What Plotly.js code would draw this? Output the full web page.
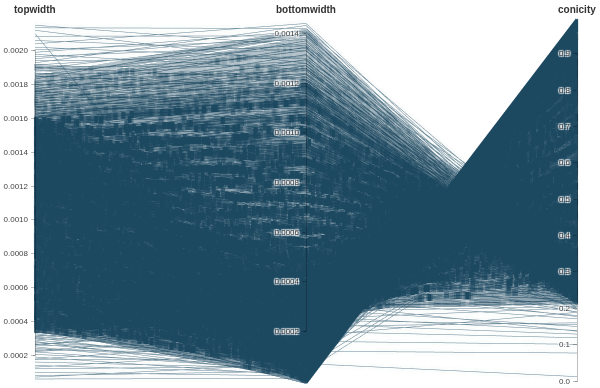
<!DOCTYPE html>
<html><head><meta charset="utf-8">
<script src="https://cdn.plot.ly/plotly-3.0.1.min.js"></script>
<style>
html,body{margin:0;padding:0;background:#fff}
#chart{width:600px;height:388px}
/* thicker strokes for the dark lines of the line layer */
canvas.gl-canvas-focus{filter:url(#thick);}
</style>
</head><body>
<svg style="position:absolute;width:0;height:0" aria-hidden="true">
  <filter id="thick" x="-2%" y="-2%" width="104%" height="104%" color-interpolation-filters="sRGB">
    <feColorMatrix in="SourceGraphic" type="matrix"
      values="0 0 0 0 0.110  0 0 0 0 0.282  0 0 0 0 0.376  -3.077 0 0 0 1.338" result="tone"/>
    <feComposite in="tone" in2="SourceGraphic" operator="in" result="mask"/>
    <feMorphology in="mask" operator="dilate" radius="1 3" result="thickened"/>
    <feMerge><feMergeNode in="SourceGraphic"/><feMergeNode in="thickened"/></feMerge>
  </filter>
</svg>
<div id="chart"></div>
<script>
// axis names
const axisTitles = ['topwidth', 'bottomwidth', 'conicity'];

// one entry per line
const topwidth = [
0.000352,0.000356,0.000361,0.000364,0.000370,0.000374,0.000379,0.000383,0.000388,0.000392,0.000397,0.000400,0.000406,0.000410,0.000415,0.000419,0.000424,0.000428,0.000433,0.000436,
0.000442,0.000446,0.000451,0.000455,0.000460,0.000464,0.000469,0.000472,0.000478,0.000482,0.000487,0.000491,0.000496,0.000500,0.000505,0.000508,0.000514,0.000518,0.000523,0.000527,
0.000532,0.000536,0.000541,0.000544,0.000550,0.000554,0.000559,0.000563,0.000568,0.000572,0.000577,0.000580,0.000586,0.000590,0.000595,0.000599,0.000604,0.000608,0.000613,0.000616,
0.000622,0.000626,0.000631,0.000635,0.000640,0.000644,0.000649,0.000652,0.000658,0.000662,0.000667,0.000671,0.000676,0.000680,0.000685,0.000688,0.000694,0.000698,0.000703,0.000707,
0.000712,0.000716,0.000721,0.000724,0.000730,0.000734,0.000739,0.000743,0.000748,0.000752,0.000757,0.000760,0.000766,0.000770,0.000775,0.000779,0.000784,0.000788,0.000793,0.000796,
0.000802,0.000806,0.000811,0.000815,0.000820,0.000824,0.000829,0.000832,0.000838,0.000842,0.000847,0.000851,0.000856,0.000860,0.000865,0.000868,0.000874,0.000878,0.000883,0.000887,
0.000892,0.000896,0.000901,0.000904,0.000910,0.000914,0.000919,0.000923,0.000928,0.000932,0.000937,0.000940,0.000946,0.000950,0.000955,0.000959,0.000964,0.000968,0.000973,0.000976,
0.000982,0.000986,0.000991,0.000995,0.001000,0.001004,0.001009,0.001012,0.001018,0.001022,0.001027,0.001031,0.001036,0.001040,0.001045,0.001048,0.001054,0.001058,0.001063,0.001067,
0.001072,0.001076,0.001081,0.001084,0.001090,0.001094,0.001099,0.001103,0.001108,0.001112,0.001117,0.001120,0.001126,0.001130,0.001135,0.001139,0.001144,0.001148,0.001153,0.001156,
0.001162,0.001166,0.001171,0.001175,0.001180,0.001184,0.001189,0.001192,0.001198,0.001202,0.001207,0.001211,0.001216,0.001220,0.001225,0.001228,0.001234,0.001238,0.001243,0.001247,
0.001252,0.001256,0.001261,0.001264,0.001270,0.001274,0.001279,0.001283,0.001288,0.001292,0.001297,0.001300,0.001306,0.001310,0.001315,0.001319,0.001324,0.001328,0.001333,0.001336,
0.001342,0.001346,0.001351,0.001355,0.001360,0.001364,0.001369,0.001372,0.001378,0.001382,0.001387,0.001391,0.001396,0.001400,0.001405,0.001408,0.001414,0.001418,0.001423,0.001427,
0.001432,0.001436,0.001441,0.001444,0.001450,0.001454,0.001459,0.001463,0.001468,0.001472,0.001477,0.001480,0.001486,0.001490,0.001495,0.001499,0.001504,0.001508,0.001513,0.001516,
0.001522,0.001526,0.001531,0.001535,0.001540,0.001544,0.001549,0.001552,0.001558,0.001562,0.001567,0.001571,0.001576,0.001580,0.001585,0.001588,
0.001104,0.001113,0.001121,0.001130,0.001138,0.001147,0.001155,0.001163,0.001172,0.001180,0.001189,0.001197,0.001206,0.001214,0.001222,0.001231,0.001239,0.001248,0.001256,0.001265,
0.001273,0.001281,0.001290,0.001298,0.001307,0.001315,0.001324,0.001332,0.001340,0.001349,0.001357,0.001366,0.001374,0.001383,0.001391,0.001399,0.001408,0.001416,0.001425,0.001433,
0.001442,0.001450,0.001458,0.001467,0.001475,0.001484,0.001492,0.001500,0.001509,0.001517,0.001526,0.001534,0.001543,0.001551,0.001559,0.001568,0.001576,0.001585,0.001593,0.001600,
0.001210,0.000455,0.000930,0.001480,0.000620,0.001050,0.000380,0.001340,0.000790,0.001560,0.000540,0.001130,0.000870,0.000410,0.001400,0.000700,0.001270,0.000980,0.001590,0.000500,
0.001190,0.000660,0.001450,0.000360,0.001010,0.000830,0.001310,0.000580,0.001530,0.000740,0.001090,0.000430,0.001370,0.000900,0.001240,0.000520,0.001500,0.000680,0.001160,0.000950,
0.000640,0.000980,0.001290,0.000450,0.001120,0.000820,0.001520,0.000560,
0.000420,0.000465,0.000510,0.000560,0.000610,0.000660,0.000720,0.000780,0.000840,0.000900,0.000440,0.000500,0.000570,0.000640,0.000700,0.000760,0.000820,0.000880,0.000950,0.001020,
0.001080,0.001150,0.001210,0.001270,0.001330,0.000390,0.000450,0.000530,0.000600,0.000680,0.000740,0.000800,0.000860,0.000930,0.000990,0.001060,0.001120,0.001180,0.001240,0.001300,
0.002150,0.002135,0.002120,0.002100,0.002085,0.002060,0.002040,0.002020,0.002005,0.001990,0.001978,0.001965,0.001952,0.001940,0.001928,0.001915,0.001903,0.001890,0.001878,0.001866,
0.001855,0.001843,0.001832,0.001820,0.001810,0.001798,0.001787,0.001776,0.001765,0.001755,0.001744,0.001733,0.001722,0.001712,0.001701,0.001691,0.001680,0.001670,0.001660,0.001650,
0.001641,0.001632,0.001622,0.001613,0.001605,0.001612,0.001628,0.001645,0.001668,0.001695,0.001725,0.001760,0.001800,0.001850,0.001900,
0.000335,0.000328,0.000320,0.000312,0.000305,0.000298,0.000290,0.000282,0.000275,0.000268,0.000260,0.000250,0.000240,0.000232,0.000220,0.000205,0.000190,0.000175,0.000160,0.000140,
0.000120,0.000100,0.000080,0.000060,
0.000071,0.000130,0.000178,0.000227,0.000264,0.000302,0.000341,0.000398,0.000439,0.000494,0.000550,0.000262,0.000222,0.000313,0.000352,0.000392,0.000446,0.000608,0.000692,0.000812,
0.000932,0.001076,0.001250,0.000480,0.000580,0.000720,0.000365,0.000290,0.001000,0.001400
];

const bottomwidth = [
0.000178,0.000070,0.000253,0.000128,0.000015,0.000232,0.000104,0.000298,0.000166,0.000047,0.000232,0.000124,0.000302,0.000064,0.000193,0.000278,0.000033,0.000168,0.000235,0.000102,
0.000222,0.000087,0.000315,0.000159,0.000018,0.000287,0.000128,0.000366,0.000204,0.000056,0.000283,0.000151,0.000368,0.000077,0.000234,0.000336,0.000039,0.000202,0.000283,0.000122,
0.000266,0.000103,0.000377,0.000188,0.000020,0.000341,0.000150,0.000435,0.000241,0.000065,0.000334,0.000176,0.000433,0.000089,0.000274,0.000395,0.000043,0.000235,0.000330,0.000141,
0.000310,0.000120,0.000438,0.000218,0.000022,0.000395,0.000173,0.000503,0.000278,0.000074,0.000385,0.000203,0.000498,0.000101,0.000314,0.000452,0.000049,0.000269,0.000377,0.000160,
0.000352,0.000135,0.000498,0.000247,0.000023,0.000448,0.000195,0.000571,0.000313,0.000082,0.000435,0.000227,0.000562,0.000112,0.000353,0.000509,0.000053,0.000301,0.000423,0.000178,
0.000395,0.000150,0.000559,0.000276,0.000024,0.000502,0.000217,0.000637,0.000349,0.000090,0.000484,0.000253,0.000627,0.000124,0.000393,0.000566,0.000057,0.000334,0.000469,0.000197,
0.000438,0.000165,0.000619,0.000305,0.000025,0.000555,0.000239,0.000705,0.000385,0.000098,0.000534,0.000277,0.000691,0.000135,0.000432,0.000623,0.000061,0.000366,0.000515,0.000215,
0.000479,0.000178,0.000678,0.000332,0.000024,0.000606,0.000259,0.000770,0.000419,0.000104,0.000582,0.000301,0.000753,0.000145,0.000469,0.000678,0.000063,0.000397,0.000559,0.000232,
0.000521,0.000193,0.000737,0.000360,0.000024,0.000659,0.000280,0.000837,0.000454,0.000111,0.000631,0.000325,0.000816,0.000155,0.000507,0.000735,0.000066,0.000428,0.000604,0.000249,
0.000561,0.000205,0.000795,0.000387,0.000022,0.000709,0.000300,0.000901,0.000488,0.000117,0.000678,0.000348,0.000878,0.000163,0.000544,0.000788,0.000068,0.000458,0.000648,0.000264,
0.000602,0.000219,0.000854,0.000413,0.000022,0.000761,0.000320,0.000967,0.000522,0.000123,0.000726,0.000371,0.000940,0.000173,0.000581,0.000844,0.000070,0.000489,0.000692,0.000281,
0.000643,0.000232,0.000912,0.000440,0.000020,0.000812,0.000340,0.001032,0.000555,0.000129,0.000774,0.000394,0.001002,0.000182,0.000618,0.000898,0.000072,0.000519,0.000736,0.000297,
0.000682,0.000243,0.000968,0.000465,0.000017,0.000861,0.000357,0.001096,0.000587,0.000132,0.000820,0.000414,0.001062,0.000189,0.000653,0.000952,0.000072,0.000547,0.000778,0.000311,
0.000721,0.000255,0.001026,0.000491,0.000018,0.000911,0.000376,0.001159,0.000620,0.000137,0.000867,0.000437,0.001124,0.000198,0.000689,0.001005,
0.000762,0.000863,0.000684,0.000831,0.000740,0.000872,0.000676,0.000826,0.000779,0.000885,0.000816,0.000923,0.000731,0.000887,0.000789,0.000931,0.000720,0.000881,0.000830,0.000944,
0.000882,0.000997,0.000791,0.000958,0.000853,0.001003,0.000779,0.000950,0.000895,0.001016,0.000927,0.001049,0.000829,0.001007,0.000894,0.001053,0.000814,0.000995,0.000938,0.001065,
0.001004,0.001132,0.000898,0.001087,0.000968,0.001137,0.000882,0.001074,0.001013,0.001147,0.001050,0.001186,0.000938,0.001137,0.001010,0.001189,0.000919,0.001122,0.001056,0.001197,
0.000667,0.000250,0.000508,0.000805,0.000317,0.000534,0.000193,0.000632,0.000371,0.000730,0.000234,0.000487,0.000345,0.000162,0.000505,0.000251,0.000452,0.000347,0.000506,0.000158,
0.000372,0.000205,0.000400,0.000087,0.000240,0.000196,0.000266,0.000116,0.000252,0.000120,0.000174,0.000068,0.000169,0.000109,0.000107,0.000043,0.000122,0.000054,0.000053,0.000041,
0.000006,0.000004,0.000009,0.000003,0.000012,0.000002,0.000005,0.000010,
0.000270,0.000290,0.000300,0.000310,0.000320,0.000330,0.000350,0.000370,0.000390,0.000410,0.000240,0.000250,0.000265,0.000280,0.000300,0.000430,0.000460,0.000480,0.000500,0.000520,
0.000470,0.000490,0.000430,0.000450,0.000400,0.000230,0.000320,0.000360,0.000390,0.000420,0.000300,0.000330,0.000350,0.000380,0.000400,0.000560,0.000600,0.000640,0.000560,0.000600,
0.001350,0.001420,0.001280,0.000090,0.001390,0.001330,0.001440,0.001300,0.001375,0.001410,0.001255,0.001350,0.001395,0.001300,0.001432,0.001340,0.001270,0.001385,0.001310,0.001235,
0.001360,0.001290,0.001405,0.001250,0.001330,0.001200,0.001370,0.001280,0.001225,0.001345,0.001260,0.001190,0.001315,0.001240,0.001170,0.001295,0.001210,0.001150,0.001270,0.001185,
0.001235,0.001130,0.001260,0.001165,0.001215,0.001100,0.001060,0.001120,0.001080,0.001105,0.001140,0.001095,0.001160,0.001185,0.001215,
0.000110,0.000060,0.000150,0.000090,0.000040,0.000130,0.000070,0.000020,0.000100,0.000050,0.000120,0.000030,0.000080,0.000110,0.000040,0.000060,0.000020,0.000090,0.000050,0.000030,
0.000060,0.000020,0.000040,0.000010,
0.000070,0.000120,0.000160,0.000200,0.000230,0.000260,0.000290,0.000330,0.000360,0.000400,0.000440,0.000220,0.000180,0.000250,0.000280,0.000310,0.000350,0.000480,0.000550,0.000650,
0.000750,0.000850,0.001000,0.000395,0.000470,0.000570,0.000315,0.000245,0.000780,0.001090
];

const conicity = [
0.495,0.802,0.299,0.649,0.959,0.379,0.726,0.222,0.571,0.881,0.416,0.691,0.256,0.844,0.534,0.336,0.923,0.608,0.457,0.766,
0.497,0.804,0.301,0.651,0.961,0.381,0.728,0.224,0.573,0.883,0.418,0.693,0.258,0.846,0.536,0.338,0.925,0.610,0.459,0.768,
0.500,0.807,0.304,0.654,0.964,0.384,0.731,0.227,0.576,0.886,0.421,0.696,0.261,0.849,0.539,0.341,0.928,0.613,0.462,0.771,
0.502,0.809,0.306,0.656,0.966,0.386,0.733,0.229,0.578,0.888,0.423,0.698,0.263,0.851,0.541,0.343,0.930,0.615,0.464,0.773,
0.505,0.812,0.309,0.659,0.969,0.389,0.736,0.232,0.581,0.891,0.426,0.701,0.266,0.854,0.544,0.346,0.933,0.618,0.467,0.776,
0.507,0.814,0.311,0.661,0.971,0.391,0.738,0.234,0.583,0.893,0.428,0.703,0.268,0.856,0.546,0.348,0.935,0.620,0.469,0.778,
0.509,0.816,0.313,0.663,0.973,0.393,0.740,0.236,0.585,0.895,0.430,0.705,0.270,0.858,0.548,0.350,0.937,0.622,0.471,0.780,
0.512,0.819,0.316,0.666,0.976,0.396,0.743,0.239,0.588,0.898,0.433,0.708,0.273,0.861,0.551,0.353,0.940,0.625,0.474,0.783,
0.514,0.821,0.318,0.668,0.978,0.398,0.745,0.241,0.590,0.900,0.435,0.710,0.275,0.863,0.553,0.355,0.942,0.627,0.476,0.785,
0.517,0.824,0.321,0.671,0.981,0.401,0.748,0.244,0.593,0.903,0.438,0.713,0.278,0.866,0.556,0.358,0.945,0.630,0.479,0.788,
0.519,0.826,0.323,0.673,0.983,0.403,0.750,0.246,0.595,0.905,0.440,0.715,0.280,0.868,0.558,0.360,0.947,0.632,0.481,0.790,
0.521,0.828,0.325,0.675,0.985,0.405,0.752,0.248,0.597,0.907,0.442,0.717,0.282,0.870,0.560,0.362,0.949,0.634,0.483,0.792,
0.524,0.831,0.328,0.678,0.988,0.408,0.755,0.251,0.600,0.910,0.445,0.720,0.285,0.873,0.563,0.365,0.952,0.637,0.486,0.795,
0.526,0.833,0.330,0.680,0.987,0.410,0.757,0.253,0.602,0.912,0.447,0.722,0.287,0.875,0.565,0.367,
0.310,0.225,0.390,0.265,0.350,0.240,0.415,0.290,0.335,0.250,0.314,0.229,0.394,0.269,0.354,0.244,0.419,0.294,0.339,0.254,
0.307,0.222,0.387,0.262,0.347,0.237,0.412,0.287,0.332,0.247,0.317,0.232,0.397,0.272,0.357,0.247,0.422,0.297,0.342,0.257,
0.304,0.219,0.384,0.259,0.344,0.234,0.409,0.284,0.329,0.244,0.312,0.227,0.392,0.267,0.352,0.242,0.417,0.292,0.337,0.252,
0.449,0.451,0.454,0.456,0.488,0.491,0.493,0.528,0.530,0.532,0.567,0.569,0.604,0.606,0.639,0.641,0.644,0.646,0.682,0.685,
0.687,0.689,0.724,0.759,0.762,0.764,0.797,0.800,0.835,0.838,0.840,0.842,0.877,0.879,0.914,0.917,0.919,0.921,0.954,0.957,
0.986,0.987,0.985,0.988,0.984,0.988,0.987,0.983,
0.357,0.376,0.412,0.446,0.475,0.500,0.514,0.526,0.536,0.544,0.455,0.500,0.535,0.563,0.571,0.434,0.439,0.455,0.474,0.490,
0.565,0.574,0.645,0.646,0.699,0.410,0.289,0.321,0.350,0.382,0.595,0.588,0.593,0.591,0.596,0.472,0.464,0.458,0.548,0.538,
0.372,0.335,0.396,0.957,0.333,0.354,0.294,0.356,0.314,0.291,0.366,0.313,0.285,0.330,0.257,0.300,0.333,0.267,0.302,0.338,
0.267,0.300,0.233,0.313,0.265,0.333,0.233,0.279,0.306,0.234,0.278,0.313,0.236,0.276,0.312,0.234,0.280,0.311,0.235,0.282,
0.247,0.308,0.223,0.278,0.243,0.318,0.349,0.319,0.353,0.348,0.339,0.378,0.356,0.359,0.361,
0.672,0.817,0.531,0.712,0.869,0.564,0.759,0.929,0.636,0.813,0.538,0.880,0.667,0.526,0.818,0.707,0.895,0.486,0.688,0.786,
0.500,0.800,0.500,0.833,
0.012,0.077,0.101,0.119,0.129,0.139,0.150,0.171,0.180,0.190,0.200,0.160,0.189,0.201,0.205,0.209,0.215,0.211,0.205,0.200,
0.195,0.210,0.200,0.177,0.190,0.208,0.137,0.155,0.220,0.221
];

// the arrays above are laid out in consecutive groups; tone 1 = dense bundle, 0.5 = edge of bundle, 0 = sparse outer lines
const groupSizes = [276, 60, 40, 8, 40, 22, 33, 24, 30];
const groupTone  = [1, 1, 1, 1, 1, 0, 0.5, 0, 0];

// tick values and labels
const topwidthTicks = [0.0002,0.0004,0.0006,0.0008,0.0010,0.0012,0.0014,0.0016,0.0018,0.0020];
const topwidthTickText = ['0.0002','0.0004','0.0006','0.0008','0.0010','0.0012','0.0014','0.0016','0.0018','0.0020'];
const bottomwidthTicks = [0.0002,0.0004,0.0006,0.0008,0.0010,0.0012,0.0014];
const bottomwidthTickText = ['0.0002','0.0004','0.0006','0.0008','0.0010','0.0012','0.0014'];
const conicityTicks = [0,0.1,0.2,0.3,0.4,0.5,0.6,0.7,0.8,0.9];
const conicityTickText = ['0.0','0.1','0.2','0.3','0.4','0.5','0.6','0.7','0.8','0.9'];

const lineTone = [];
groupSizes.forEach((n, g) => { for (let i = 0; i < n; i++) lineTone.push(groupTone[g]); });

const trace = {
  type: 'parcoords',
  line: {color: lineTone, colorscale: [[0, '#6d8d9d'], [0.5, '#3a5f73'], [1, '#1c4860']], cmin: 0, cmax: 1, showscale: false},
  labelfont: {size: 1, color: 'rgba(0,0,0,0)'},
  rangefont: {size: 1, color: 'rgba(0,0,0,0)'},
  tickfont: {size: 8, color: '#444', family: 'Liberation Sans, Arial, sans-serif'},
  dimensions: [
    {label: '', values: topwidth, range: [0.000048, 0.002175], tickvals: topwidthTicks, ticktext: topwidthTickText},
    {label: '', values: bottomwidth, range: [0, 0.00145], tickvals: bottomwidthTicks, ticktext: bottomwidthTickText},
    {label: '', values: conicity, range: [0, 0.99], tickvals: conicityTicks, ticktext: conicityTickText}
  ]
};

const layout = {
  width: 600, height: 388,
  margin: {l: 35, r: 23, t: 19, b: 5},
  paper_bgcolor: '#ffffff',
  font: {family: 'Liberation Sans, Arial, sans-serif'},
  annotations: axisTitles.map((t, i) => ({
    text: t, xref: 'paper', yref: 'paper', x: i / 2, y: 1,
    xanchor: 'center', yanchor: 'bottom', yshift: 2, showarrow: false,
    font: {size: 10, color: '#333', weight: 'bold'}
  }))
};

Plotly.newPlot('chart', [trace], layout, {displayModeBar: false, staticPlot: true});
</script>
</body></html>
